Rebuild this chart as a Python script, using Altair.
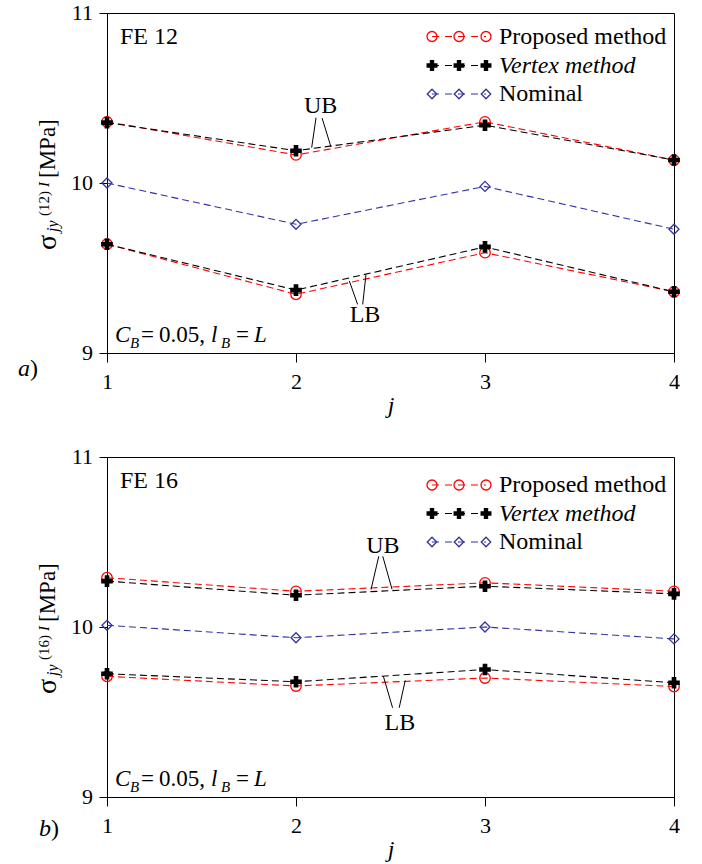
import altair as alt
import pandas as pd

FONT = "Liberation Serif"
W, H = 567, 340

# ---------------- data ----------------
j = [1, 2, 3, 4]

a_prop_ub = [10.36, 10.165, 10.36, 10.135]
a_vert_ub = [10.355, 10.19, 10.34, 10.135]
a_nom = [10.0, 9.757, 9.98, 9.728]
a_vert_lb = [9.64, 9.37, 9.624, 9.36]
a_prop_lb = [9.64, 9.345, 9.59, 9.36]

b_prop_ub = [10.29, 10.21, 10.26, 10.21]
b_vert_ub = [10.27, 10.187, 10.24, 10.195]
b_nom = [10.01, 9.937, 10.0, 9.93]
b_vert_lb = [9.725, 9.678, 9.75, 9.672]
b_prop_lb = [9.71, 9.653, 9.70, 9.65]

series = ["Proposed method", "Vertex method", "Nominal"]
colors = ["#ff0000", "#000000", "#3333a0"]
x_ticks = [1, 2, 3, 4]
y_ticks = [9, 10, 11]

# annotation anchor points (data coordinates)
a_ub_label = (2.13, 10.453)
a_ub_lines = [(2.106, 10.384, 2.083, 10.208), (2.138, 10.382, 2.185, 10.212)]
a_lb_label = (2.365, 9.226)
a_lb_lines = [(2.282, 9.424, 2.326, 9.286), (2.370, 9.459, 2.353, 9.286)]
b_ub_label = (2.46, 10.475)
b_ub_lines = [(2.438, 10.416, 2.397, 10.221), (2.459, 10.416, 2.508, 10.222)]
b_lb_label = (2.55, 9.435)
b_lb_lines = [(2.462, 9.711, 2.511, 9.525), (2.578, 9.686, 2.546, 9.525)]


def long_df(prop_ub, vert_ub, nom, vert_lb, prop_lb):
    rows = []
    for s, b, vals in [
        (series[0], "UB", prop_ub), (series[0], "LB", prop_lb),
        (series[1], "UB", vert_ub), (series[1], "LB", vert_lb),
        (series[2], "N", nom),
    ]:
        for x, v in zip(j, vals):
            rows.append({"j": x, "v": v, "series": s, "bound": b})
    return pd.DataFrame(rows)


ONE = pd.DataFrame({"k": [0]})

xscale = alt.Scale(domain=[1, 4], nice=False, zero=False)
yscale = alt.Scale(domain=[9, 11], nice=False, zero=False)

xaxis = alt.Axis(values=x_ticks, format=".0f", title="j", titleFont=FONT,
                 titleFontSize=24, titleFontStyle="italic", titleFontWeight="normal",
                 titleY=59, titleBaseline="alphabetic", titleColor="black",
                 labelFont=FONT, labelFontSize=22, labelColor="black",
                 tickSize=9, labelPadding=9, grid=False, domainColor="black",
                 tickColor="black", labelFlush=False, labelOverlap=False)
yaxis = alt.Axis(values=y_ticks, title=None, labels=False,
                 tickSize=8, grid=False, domainColor="black", tickColor="black")


def txt(t, x, y, size=24, italic=False, angle=None, align="left", baseline="alphabetic"):
    kw = dict(text=t, font=FONT, fontSize=size, align=align, baseline=baseline,
              color="black", fontStyle="italic" if italic else "normal")
    if angle is not None:
        kw["angle"] = angle
    return alt.Chart(ONE).mark_text(**kw).encode(x=alt.value(x), y=alt.value(y))


def panel(df, fe, ub_label, ub_lines, lb_label, lb_lines, tag, tag_pos, sup, leg_y):
    base = alt.Chart(df)
    X = alt.X("j:Q", scale=xscale, axis=xaxis)
    Y = alt.Y("v:Q", scale=yscale, axis=yaxis)
    layers = []
    # dashed lines
    for s, c in [(series[2], colors[2]), (series[0], colors[0]), (series[1], colors[1])]:
        layers.append(base.transform_filter(alt.datum.series == s)
                      .mark_line(strokeDash=[7, 4], strokeWidth=1.1, color=c)
                      .encode(x=X, y=Y, detail="bound:N"))
    layers.append(base.transform_filter(alt.datum.series == series[0])
                  .mark_point(shape="circle", filled=False, size=110, strokeWidth=1.3,
                              color=colors[0], opacity=1)
                  .encode(x=X, y=Y))
    layers.append(base.transform_filter(alt.datum.series == series[1])
                  .mark_point(shape="cross", filled=True, size=135, color=colors[1], opacity=1)
                  .encode(x=X, y=Y))
    layers.append(base.transform_filter(alt.datum.series == series[2])
                  .mark_point(shape="diamond", filled=False, size=100, strokeWidth=1.3,
                              color=colors[2], opacity=1)
                  .encode(x=X, y=Y))

    # y tick labels drawn through the y scale
    ylab = pd.DataFrame({"v": y_ticks, "t": [str(t) for t in y_ticks]})
    layers.append(alt.Chart(ylab).mark_text(font=FONT, fontSize=22, color="black",
                                            align="right", baseline="middle")
                  .encode(x=alt.value(-14), y=Y, text="t:N"))

    # UB / LB annotations
    ann = pd.DataFrame([
        {"j": ub_label[0], "v": ub_label[1], "t": "UB"},
        {"j": lb_label[0], "v": lb_label[1], "t": "LB"},
    ])
    layers.append(alt.Chart(ann).mark_text(font=FONT, fontSize=24, color="black",
                                           align="center", baseline="middle")
                  .encode(x=X, y=Y, text="t:N"))
    segs = pd.DataFrame([dict(j=a, v=b, j2=c, v2=d) for a, b, c, d in ub_lines + lb_lines])
    layers.append(alt.Chart(segs).mark_rule(color="black", strokeWidth=1)
                  .encode(x=X, y=Y, x2="j2:Q", y2="v2:Q"))

    # FE label
    layers.append(txt(fe, 13, 31))
    # C_B = 0.05, l_B = L
    for t, px, py, sz, it in [("C", 8, 329, 23, True), ("B", 23, 335, 15, True),
                              ("=", 34, 329, 23, False), ("0.05,", 52, 329, 23, False),
                              ("l", 104, 329, 23, True), ("B", 114, 335, 15, True),
                              ("=", 129, 329, 23, False), ("L", 147, 329, 23, True)]:
        layers.append(txt(t, px, py, sz, it))

    # y-axis title built from pieces (rotated)
    for t, px, py, sz, it in [("σ", -51, 237, 28, False), ("jy", -49, 219, 16, True),
                              (sup, -58, 203, 15, False), ("I", -58, 174, 15, True),
                              ("[MPa]", -52, 165, 23, False)]:
        layers.append(txt(t, px, py, sz, it, angle=270))

    # panel tag a) / b)
    tx, ty = tag_pos
    layers.append(txt(tag, tx, ty, 24, True))
    layers.append(txt(")", tx + 12, ty, 24, False))

    # legend
    mx = [325, 352, 379]
    shapes = [("circle", False, 100, 1.3), ("cross", True, 120, 1), ("diamond", False, 90, 1.3)]
    for i, (s, c) in enumerate(zip(series, colors)):
        yy = leg_y[i]
        layers.append(alt.Chart(ONE).mark_rule(color=c, strokeWidth=1.1, strokeDash=[7, 6])
                      .encode(x=alt.value(mx[0]), x2=alt.value(mx[2]), y=alt.value(yy)))
        shp, fill, sz, sw = shapes[i]
        for m in mx:
            layers.append(alt.Chart(ONE).mark_point(shape=shp, filled=fill, size=sz,
                                                    strokeWidth=sw, color=c, opacity=1)
                          .encode(x=alt.value(m), y=alt.value(yy)))
        layers.append(txt(s, 392, yy, 24, italic=(i == 1), baseline="middle"))

    return alt.layer(*layers).properties(width=W, height=H)


pa = panel(long_df(a_prop_ub, a_vert_ub, a_nom, a_vert_lb, a_prop_lb), "FE 12",
           a_ub_label, a_ub_lines, a_lb_label, a_lb_lines, "a", (-89, 363), "(12)",
           [23.5, 52.5, 81])
pb = panel(long_df(b_prop_ub, b_vert_ub, b_nom, b_vert_lb, b_prop_lb), "FE 16",
           b_ub_label, b_ub_lines, b_lb_label, b_lb_lines, "b", (-68, 379), "(16)",
           [28, 56.5, 85])

chart = (alt.vconcat(pa, pb, spacing=104, bounds="flush")
         .properties(padding={"left": 17, "top": 1, "right": 5, "bottom": 5},
                     background="white")
         .configure_view(stroke="black", strokeWidth=1)
         .configure_axis(domainWidth=1, tickWidth=1, labelFont=FONT, titleFont=FONT))

chart.save("out.html", embed_options={"renderer": "svg", "actions": False})
